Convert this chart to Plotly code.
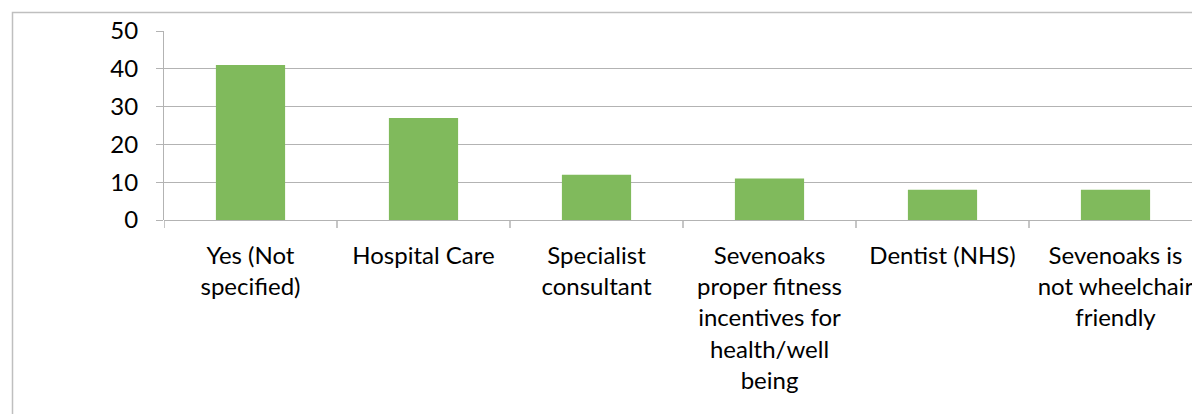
import plotly.graph_objects as go

categories = [
    "Yes (Not<br>specified)",
    "Hospital Care",
    "Specialist<br>consultant",
    "Sevenoaks<br>proper fitness<br>incentives for<br>health/well<br>being",
    "Dentist (NHS)",
    "Sevenoaks is<br>not wheelchair<br>friendly",
]
values = [41, 27, 12, 11, 8, 8]
y_ticks = [0, 10, 20, 30, 40, 50]

# page body has an 8px margin; figure sized so no scrollbars appear
W, H = 1192, 406
L, T, R = 156, 23, 0
B = H - 212
pw = W - L - R
ph = H - T - B

fig = go.Figure(go.Bar(
    x=list(range(len(categories))), y=values,
    marker=dict(color="#80BA5C", line=dict(width=0)),
    width=0.4,
))

grid = "#B3B3B3"
font = dict(family="Lato, Open Sans, sans-serif", size=24, color="#000000")

fig.update_layout(
    width=W, height=H,
    margin=dict(l=L, r=R, t=T, b=B, pad=0),
    paper_bgcolor="white", plot_bgcolor="white",
    showlegend=False,
    font=font,
    xaxis=dict(
        tickmode="array", tickvals=list(range(len(categories))), ticktext=categories,
        range=[-0.5, -0.5 + pw / 173.0],
        showgrid=False, zeroline=False,
        showline=False,
        ticks="", tickfont=font, ticklabelstandoff=19,
    ),
    yaxis=dict(
        range=[0, 50], tickmode="array", tickvals=y_ticks,
        showgrid=True, gridcolor=grid, gridwidth=1,
        zeroline=True, zerolinecolor=grid, zerolinewidth=1,
        showline=True, linecolor=grid, linewidth=1,
        ticks="outside", ticklen=7, tickcolor=grid, tickwidth=1,
        tickfont=font, ticklabelstandoff=13,
    ),
)

# category boundary tick marks on x axis
for i in range(len(categories)):
    xb = i - 0.5
    fig.add_shape(type="line", xref="x", yref="paper", x0=xb, x1=xb,
                  y0=0, y1=-8.0 / ph, line=dict(color=grid, width=1.5))

# outer chart border (cropped)
fig.add_shape(type="rect", xref="paper", yref="paper",
              x0=(4.5 - L) / pw, x1=1.05,
              y0=-2.0, y1=(ph + T - 4.5) / ph,
              line=dict(color="#BFBFBF", width=1.5), fillcolor="rgba(0,0,0,0)",
              layer="below")

fig.write_html("out.html")
